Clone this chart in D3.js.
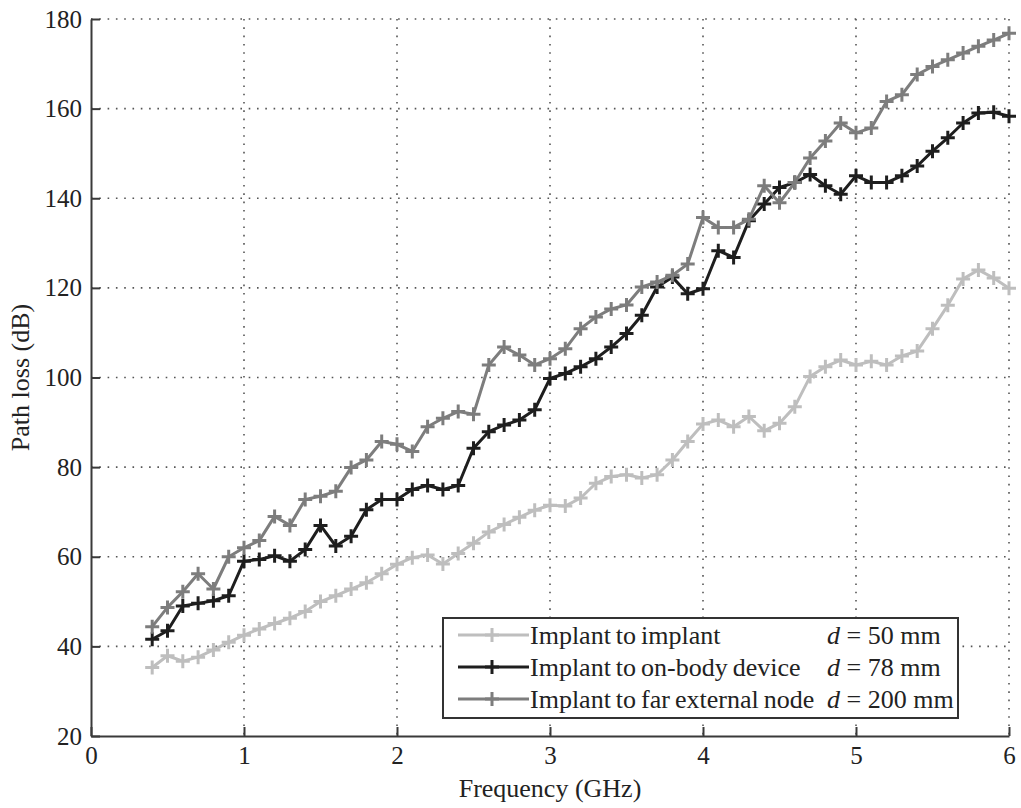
<!DOCTYPE html>
<html>
<head>
<meta charset="utf-8">
<script src="https://cdn.jsdelivr.net/npm/d3@7"></script>
<style>
	body { margin: 0; background: #fff; }
	svg text { font-family: "Liberation Serif", "Times New Roman", Times, "DejaVu Serif", serif; }
	.grid line { stroke: #555; stroke-width: 1.6; stroke-dasharray: 1.6, 6.7; }
	.axis path, .axis line { stroke: #3a3a3a; stroke-width: 2; }
	.axis text { fill: #222; font-size: 25px; }
</style>
</head>
<body>
<svg id="chart" width="1021" height="808"></svg>
<script>
var serif = '"Liberation Serif", "Times New Roman", Times, "DejaVu Serif", serif';

// frequency samples (GHz)
var freq = [0.4, 0.5, 0.6, 0.7, 0.8, 0.9, 1.0, 1.1, 1.2, 1.3, 1.4, 1.5, 1.6, 1.7, 1.8, 1.9,
	2.0, 2.1, 2.2, 2.3, 2.4, 2.5, 2.6, 2.7, 2.8, 2.9, 3.0, 3.1, 3.2, 3.3, 3.4, 3.5, 3.6, 3.7,
	3.8, 3.9, 4.0, 4.1, 4.2, 4.3, 4.4, 4.5, 4.6, 4.7, 4.8, 4.9, 5.0, 5.1, 5.2, 5.3, 5.4, 5.5,
	5.6, 5.7, 5.8, 5.9, 6.0];

// path loss (dB)
var implantToImplant = [35.3, 37.9, 36.7, 37.6, 39.2, 40.9, 42.5, 43.9, 45.1, 46.3, 47.8, 50.0,
	51.3, 52.8, 54.2, 56.2, 58.3, 59.8, 60.4, 58.4, 60.7, 63.0, 65.5, 67.2, 68.8, 70.4, 71.5,
	71.3, 73.1, 76.4, 77.9, 78.3, 77.6, 78.3, 81.6, 85.7, 89.6, 90.5, 89.0, 91.3, 88.1, 89.8,
	93.5, 100.2, 102.4, 103.9, 102.8, 103.6, 102.8, 104.8, 105.9, 110.9, 116.1, 122.0, 124.0,
	122.2, 119.9];

var implantToOnBody = [41.6, 43.5, 49.0, 49.6, 50.2, 51.3, 59.0, 59.4, 60.2, 59.0, 61.6, 67.0,
	62.4, 64.6, 70.5, 72.8, 72.8, 75.0, 75.9, 75.0, 75.9, 84.2, 87.9, 89.4, 90.5, 92.8, 99.8,
	100.9, 102.4, 104.2, 106.8, 109.8, 113.9, 120.2, 122.4, 118.7, 119.8, 128.3, 126.8, 135.0,
	138.7, 142.4, 143.5, 145.3, 142.8, 140.9, 145.0, 143.5, 143.5, 145.0, 147.2, 150.5, 153.5,
	156.8, 159.0, 159.2, 158.3];

var implantToFar = [44.4, 48.7, 52.2, 56.2, 52.8, 60.0, 62.0, 63.6, 69.0, 67.0, 72.8, 73.5,
	74.6, 79.9, 81.6, 85.7, 85.1, 83.5, 89.0, 90.9, 92.4, 91.8, 102.8, 106.8, 105.0, 102.8,
	104.2, 106.4, 110.9, 113.5, 115.3, 116.2, 120.2, 121.3, 122.8, 125.3, 135.7, 133.5, 133.5,
	135.3, 142.8, 139.0, 143.5, 149.0, 152.8, 156.8, 154.6, 155.7, 161.6, 163.1, 167.6, 169.4,
	170.9, 172.4, 173.9, 175.3, 176.8];

var seriesNames = ['Implant to implant', 'Implant to on-body device', 'Implant to far external node'];
var seriesDist = ['50', '78', '200'];
var seriesColors = ['#bebebe', '#1e1e1e', '#7d7d7d'];

var xTicks = [0, 1, 2, 3, 4, 5, 6];
var yTicks = [20, 40, 60, 80, 100, 120, 140, 160, 180];

var margin = {left: 91, right: 12, top: 19, bottom: 72};
var width = 1021 - margin.left - margin.right;
var height = 808 - margin.top - margin.bottom;

var svg = d3.select('#chart');
var g = svg.append('g')
	.attr('transform', 'translate(' + margin.left + ',' + margin.top + ')');

var x = d3.scaleLinear().domain([0, 6]).range([0, width]);
var y = d3.scaleLinear().domain([20, 180]).range([height, 0]);

// dotted grid
var grid = g.append('g').attr('class', 'grid');
grid.selectAll('.gx').data(xTicks.slice(1)).enter()
	.append('line')
	.attr('x1', function (d) { return x(d); })
	.attr('x2', function (d) { return x(d); })
	.attr('y1', 0)
	.attr('y2', height);
grid.selectAll('.gy').data(yTicks.slice(1)).enter()
	.append('line')
	.attr('x1', 0)
	.attr('x2', width)
	.attr('y1', function (d) { return y(d); })
	.attr('y2', function (d) { return y(d); });

// axes, ticks pointing inward
var xAxis = g.append('g').attr('class', 'axis')
	.attr('transform', 'translate(0,' + height + ')')
	.call(d3.axisBottom(x).tickValues(xTicks).tickSizeInner(-9).tickSizeOuter(0).tickPadding(10)
		.tickFormat(d3.format('d')));

var yAxis = g.append('g').attr('class', 'axis')
	.call(d3.axisLeft(y).tickValues(yTicks).tickSizeInner(-9).tickSizeOuter(0).tickPadding(9)
		.tickFormat(d3.format('d')));

[xAxis, yAxis].forEach(function (a) {
	a.attr('font-family', serif).attr('font-size', 25);
	a.selectAll('text').attr('font-family', serif);
});

// axis titles
svg.append('text')
	.attr('x', margin.left + width / 2)
	.attr('y', 797)
	.attr('text-anchor', 'middle')
	.attr('font-family', serif)
	.style('font-size', '26px')
	.attr('fill', '#222')
	.text('Frequency (GHz)');

svg.append('text')
	.attr('transform', 'translate(29,' + (margin.top + height / 2) + ') rotate(-90)')
	.attr('text-anchor', 'middle')
	.attr('font-family', serif)
	.style('font-size', '26px')
	.attr('fill', '#222')
	.text('Path loss (dB)');

var line = d3.line()
	.x(function (d) { return x(d[0]); })
	.y(function (d) { return y(d[1]); });

var plusPath = 'M-7,0H7M0,-7V7';

var allSeries = [implantToImplant, implantToOnBody, implantToFar];

allSeries.forEach(function (vals, i) {
	var pts = freq.map(function (f, j) { return [f, vals[j]]; });
	var s = g.append('g').attr('class', 'series');
	s.append('path')
		.datum(pts)
		.attr('d', line)
		.attr('fill', 'none')
		.attr('stroke', seriesColors[i])
		.attr('stroke-width', 3)
		.attr('stroke-linejoin', 'round');
	s.selectAll('.mk').data(pts).enter()
		.append('path')
		.attr('class', 'mk')
		.attr('transform', function (d) { return 'translate(' + x(d[0]) + ',' + y(d[1]) + ')'; })
		.attr('d', plusPath)
		.attr('stroke', seriesColors[i])
		.attr('stroke-width', 3)
		.attr('fill', 'none');
});

// legend
var legend = svg.append('g').attr('transform', 'translate(443,618)');
legend.append('rect')
	.attr('width', 515)
	.attr('height', 100)
	.attr('fill', '#fff')
	.attr('stroke', '#333')
	.attr('stroke-width', 2);

var rows = legend.selectAll('.row').data(seriesNames).enter()
	.append('g')
	.attr('class', 'row')
	.attr('transform', function (d, i) { return 'translate(0,' + (17 + i * 32) + ')'; });

rows.append('line')
	.attr('x1', 15).attr('x2', 86)
	.attr('stroke', function (d, i) { return seriesColors[i]; })
	.attr('stroke-width', 3);
rows.append('path')
	.attr('transform', 'translate(49,0)')
	.attr('d', plusPath)
	.attr('stroke', function (d, i) { return seriesColors[i]; })
	.attr('stroke-width', 3);
rows.append('text')
	.attr('x', 87)
	.attr('y', 9)
	.attr('font-family', serif)
	.style('font-size', '26px')
	.style('word-spacing', '-1.5px')
	.attr('fill', '#222')
	.text(function (d) { return d; });

var dist = rows.append('text')
	.attr('x', 384)
	.attr('y', 9)
	.attr('font-family', serif)
	.style('font-size', '26px')
	.attr('fill', '#222');
dist.append('tspan').style('font-style', 'italic').text('d');
dist.append('tspan').text(function (d, i) { return ' = ' + seriesDist[i] + ' mm'; });
</script>
</body>
</html>
